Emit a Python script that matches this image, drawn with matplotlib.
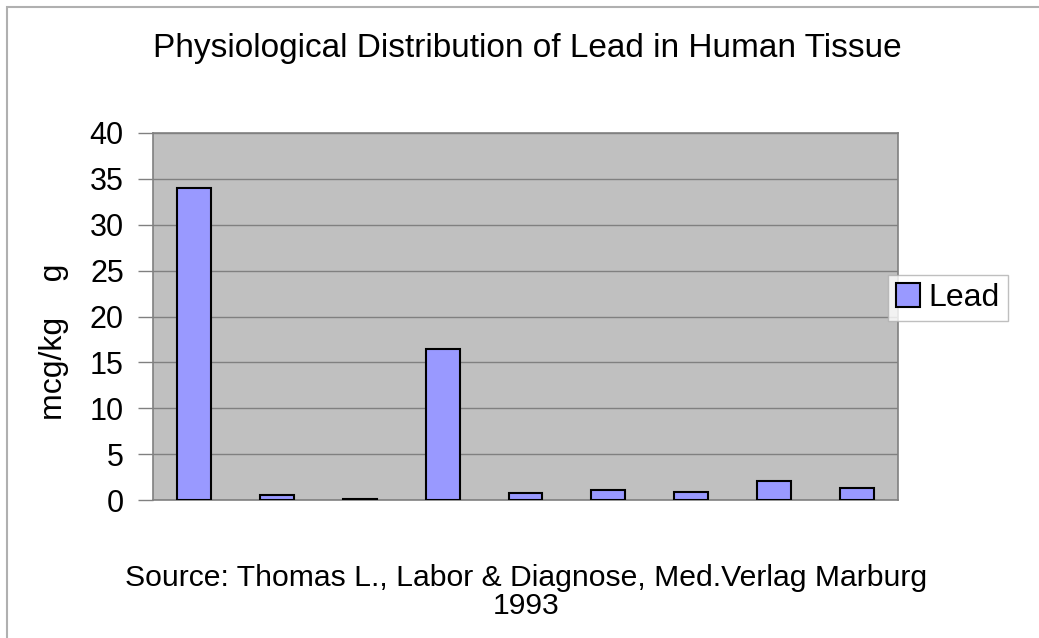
import numpy as np
import matplotlib.pyplot as plt
from matplotlib.patches import Rectangle

plt.rcParams['font.family'] = ['Liberation Sans', 'DejaVu Sans']

# values (mcg/kg)
tissues = ["t1", "t2", "t3", "t4", "t5", "t6", "t7", "t8", "t9"]
lead = [34.0, 0.5, 0.15, 16.5, 0.8, 1.05, 0.9, 2.05, 1.35]
yticks = [0, 5, 10, 15, 20, 25, 30, 35, 40]

fig = plt.figure(figsize=(10.39, 6.38), dpi=100)
ax = fig.add_axes([153/1039, 1 - 500/638, 745/1039, 367/638])
ax.set_facecolor("#c0c0c0")

x = np.arange(len(tissues))
ax.bar(x, lead, width=0.41, color="#9999ff", edgecolor="black", linewidth=1.5,
       label="Lead", zorder=3)

ax.set_xlim(-0.5, len(tissues) - 0.5)
ax.set_ylim(0, 40)
ax.set_yticks(yticks)
ax.set_xticks([])
ax.tick_params(axis="y", labelsize=22, length=11, width=1, color="#808080", pad=10)
ax.yaxis.grid(True, color="#808080", linewidth=1, zorder=0)

for s in ["left", "bottom", "right", "top"]:
    ax.spines[s].set_color("#808080")
    ax.spines[s].set_linewidth(1.2)

fig.text(527/1039, 1 - 48/638, "Physiological Distribution of Lead in Human Tissue",
         ha="center", va="center", fontsize=24)
fig.text(54/1039, 1 - 342/638, "mcg/kg    g", rotation=90,
         ha="center", va="center", fontsize=23)
fig.text(526/1039, 1 - 592/638,
         "Source: Thomas L., Labor & Diagnose, Med.Verlag Marburg\n1993",
         ha="center", va="center", fontsize=21.7, linespacing=1.0)

leg = fig.legend(loc="center", bbox_to_anchor=(948/1039, 1 - 298/638),
                 fontsize=23, frameon=True, fancybox=False, handlelength=0.75,
                 handleheight=0.75, handletextpad=0.25, borderpad=0.25,
                 borderaxespad=0)
leg.get_frame().set_edgecolor("#b0b0b0")
leg.get_frame().set_linewidth(1)

# outer chart border
fig.patches.append(Rectangle((7/1039, -0.1), 1.2, 1 - 7/638 + 0.1,
                             transform=fig.transFigure, fill=False,
                             edgecolor="#b0b0b0", linewidth=1.5))

fig.savefig("out.png", dpi=100)
